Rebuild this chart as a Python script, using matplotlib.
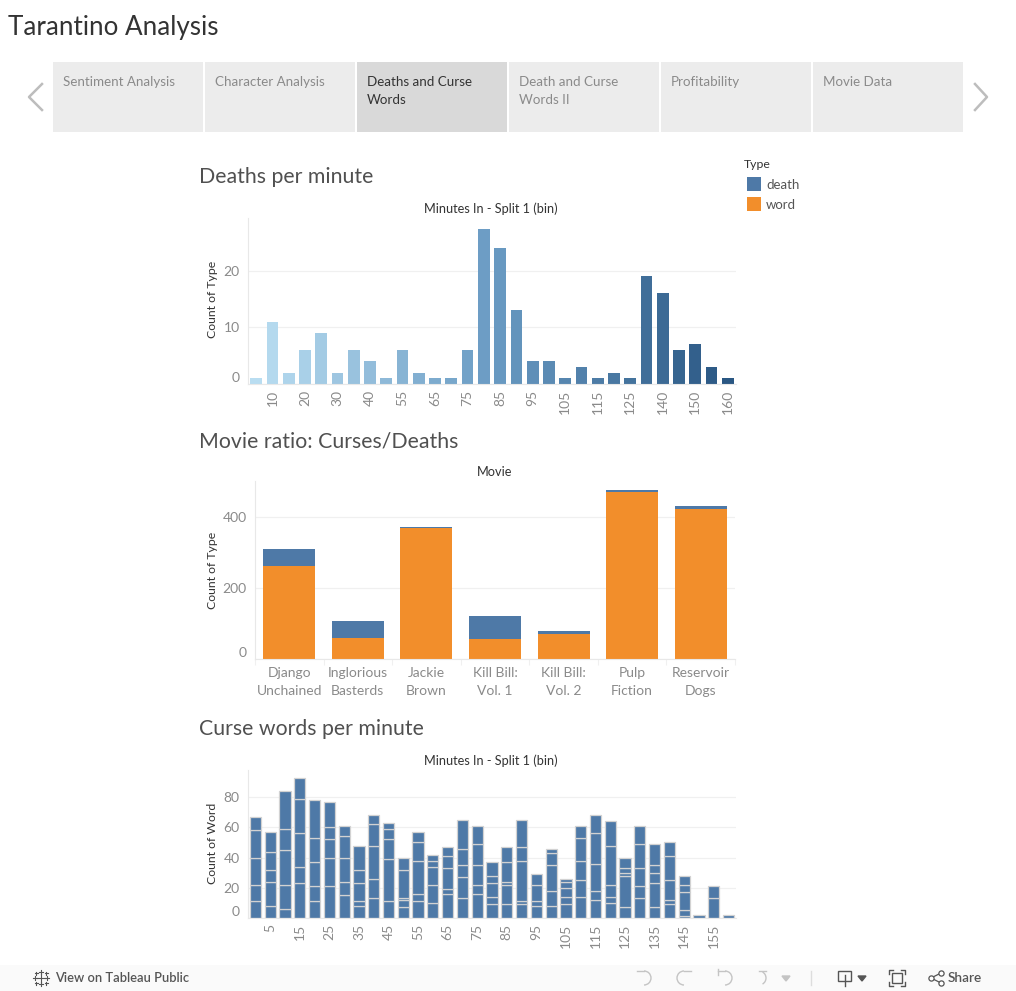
"""Tarantino Analysis dashboard: deaths and curse words."""

import matplotlib.pyplot as plt
import numpy as np
from matplotlib.colors import LinearSegmentedColormap
from matplotlib.patches import Arc, Rectangle

plt.rcParams["font.family"] = ["Lato", "DejaVu Sans"]

WIDTH, HEIGHT = 1016, 991
BLUE = "#4e79a7"
ORANGE = "#f28e2b"
TEXT_DARK = "#333333"
TEXT_GREY = "#8a8a8a"
GRID = "#f0f0f0"
AXIS = "#e8e8e8"

TABS = ["Sentiment Analysis", "Character Analysis", "Deaths and Curse\nWords",
        "Death and Curse\nWords II", "Profitability", "Movie Data"]
ACTIVE_TAB = 2

DEATH_BINS = [5, 10, 15, 20, 25, 30, 35, 40, 50, 55, 60, 65, 70, 75, 80,
              85, 90, 95, 100, 105, 110, 115, 120, 125, 135, 140, 145, 150, 155, 160]
DEATH_COUNTS = [1, 11, 2, 6, 9, 2, 6, 4, 1, 6, 2, 1, 1, 6, 27.3,
                24, 13, 4, 4, 1, 3, 1, 2, 1, 19, 16, 6, 7, 3, 1]

MOVIES = ["Django\nUnchained", "Inglorious\nBasterds", "Jackie\nBrown", "Kill Bill:\nVol. 1",
          "Kill Bill:\nVol. 2", "Pulp\nFiction", "Reservoir\nDogs"]
MOVIE_WORDS = [262, 58, 368, 57, 69, 469, 421]
MOVIE_DEATHS = [48, 48, 4, 63, 9, 7, 10]

WORD_BINS = list(range(0, 165, 5))
# running totals up each stacked bar, one boundary per movie
WORD_STACKS = [
    [11, 22, 40, 58, 67], [8, 24, 32, 44, 57], [6, 22, 45, 59, 84], [23, 34, 56, 79, 93],
    [11, 21, 37, 53, 78], [21, 40, 52, 60, 77], [15, 24, 40, 54, 61], [8, 11, 23, 32, 48],
    [13, 26, 48, 62, 68], [11, 39, 52, 59, 63], [7, 12, 13, 32, 40], [11, 16, 38, 50, 57],
    [10, 22, 34, 38, 42], [16, 19, 33, 41, 47], [13, 27, 35, 46, 65], [16, 22, 35, 49, 61],
    [9, 14, 23, 28, 37], [9, 22, 24, 37, 47], [9, 11, 38, 47, 65], [8, 11, 22, 29],
    [8, 18, 35, 43, 46], [9, 14, 20, 24, 26], [14, 25, 38, 53, 61], [12, 18, 36, 56, 68],
    [10, 14, 22, 48, 64], [7, 28, 30, 33, 40], [13, 21, 33, 49, 61], [7, 23, 30, 35, 49],
    [9, 12, 25, 41, 50], [1, 5, 17, 22, 28], [2], [13, 21], [2],
]


def add_chart(fig, left, top, right, bottom):
    ax = fig.add_axes([left / WIDTH, 1 - bottom / HEIGHT,
                       (right - left) / WIDTH, (bottom - top) / HEIGHT])
    ax.patch.set_alpha(0)
    for side in ("top", "right"):
        ax.spines[side].set_visible(False)
    for side in ("left", "bottom"):
        ax.spines[side].set_color(AXIS)
        ax.spines[side].set_linewidth(0.8)
    ax.grid(axis="y", color=GRID, linewidth=0.9)
    ax.set_axisbelow(True)
    ax.tick_params(axis="y", length=0, labelsize=10, labelcolor=TEXT_GREY, pad=6)
    return ax


def lift_zero_label(ax):
    # tableau keeps the 0 label above the axis line
    ax.get_yticklabels()[0].set_va("bottom")


def rotated_ticks(ax, bins, every_from):
    positions = range(every_from, len(bins), 2)
    ax.set_xticks(list(positions), [str(bins[i]) for i in positions], rotation=90)
    ax.tick_params(axis="x", length=0, labelsize=10, labelcolor=TEXT_GREY, pad=4)


def draw_page(page):
    page.add_patch(Rectangle((0, 965), WIDTH, 26, fc="#fafafa", ec="none", zorder=0))
    page.text(8, 28, "Tarantino Analysis", fontsize=18.7, color=TEXT_DARK, va="center")

    for i, tab in enumerate(TABS):
        x = 53 + 152 * i
        colour = "#d9d9d9" if i == ACTIVE_TAB else "#ececec"
        page.add_patch(Rectangle((x, 62), 150, 70, fc=colour, ec="none", zorder=0))
        page.text(x + 10, 76, tab, fontsize=9.6, va="top", linespacing=1.6,
                  color=TEXT_DARK if i == ACTIVE_TAB else TEXT_GREY)

    page.plot([42, 29, 42], [84, 97, 110], color="#bdbdbd", lw=1.8)
    page.plot([975, 987, 975], [84, 97, 110], color="#bdbdbd", lw=1.8)

    for y, title in [(177, "Deaths per minute"), (441, "Movie ratio: Curses/Deaths"),
                     (729, "Curse words per minute")]:
        page.text(199, y, title, fontsize=15.3, color="#505050", va="center")
    for x, y, title in [(491, 209, "Minutes In - Split 1 (bin)"), (495, 472, "Movie"),
                        (491, 761, "Minutes In - Split 1 (bin)")]:
        page.text(x, y, title, fontsize=9.2, color=TEXT_DARK, ha="center", va="center")
    for y, label in [(299, "Count of Type"), (570, "Count of Type"), (843, "Count of Word")]:
        page.text(213, y, label, fontsize=8.8, color=TEXT_DARK, rotation=90,
                  ha="center", va="center")

    page.text(744, 165, "Type", fontsize=8.8, color=TEXT_DARK, va="center")
    for y, name, colour in [(184, "death", BLUE), (204, "word", ORANGE)]:
        page.add_patch(Rectangle((747, y - 7), 14, 14, fc=colour, ec="none"))
        page.text(766, y + 1, name, fontsize=9.5, color="#555555", va="center")


def draw_toolbar(page):
    grey = "#555555"
    pale = "#c4c4c4"
    page.text(55, 978, "View on Tableau Public", fontsize=9.3, color=grey, va="center",
              fontweight="semibold")
    page.text(948, 978, "Share", fontsize=9.8, color=grey, va="center", fontweight="semibold")

    # tableau mark
    for dx, dy, r in [(0, 0, 4), (-6, 0, 2), (6, 0, 2), (0, -6, 2), (0, 6, 2),
                      (-5, -5, 1.5), (5, -5, 1.5), (-5, 5, 1.5), (5, 5, 1.5)]:
        page.plot([41 + dx - r, 41 + dx + r], [978 + dy, 978 + dy], color=grey, lw=0.8)
        page.plot([41 + dx, 41 + dx], [978 + dy - r, 978 + dy + r], color=grey, lw=0.8)

    # undo, redo, revert, refresh
    for x, start, end, tip in [(644, 270, 90, 637), (684, 90, 270, 691),
                               (725, 270, 90, 718), (759, 300, 60, 766)]:
        page.add_patch(Arc((x, 978), 14, 14, theta1=start, theta2=end, color=pale, lw=1))
        page.plot([tip, x], [971, 971], color=pale, lw=1)
    page.plot([718, 718], [969, 975], color=pale, lw=1)
    page.fill([782, 790, 786], [976, 976, 981], color=pale)
    page.plot([811, 811], [971, 985], color="#dddddd", lw=1)

    # download
    page.add_patch(Rectangle((838, 971), 13, 10, fill=False, ec=grey, lw=1))
    page.plot([845, 845], [975, 986], color=grey, lw=1)
    page.fill([858, 866, 862], [976, 976, 981], color=grey)
    # fullscreen
    page.add_patch(Rectangle((892, 973), 10, 10, fill=False, ec=grey, lw=1))
    for x, y, dx, dy in [(889, 970, 4, 4), (905, 970, -4, 4), (889, 986, 4, -4), (905, 986, -4, -4)]:
        page.plot([x + dx, x, x], [y, y, y + dy], color=grey, lw=1)
    # share
    page.plot([941, 931, 941], [973, 978, 983], color=grey, lw=0.9)
    page.scatter([941, 931, 941], [973, 978, 983], s=14, fc="white", ec=grey, lw=0.9, zorder=3)


def draw_deaths(fig):
    ax = add_chart(fig, 248, 218, 736, 384)
    cmap = LinearSegmentedColormap.from_list("tableau_blue", ["#b9ddf1", "#6a9bc3", "#2a5783"])
    x = np.arange(len(DEATH_BINS))
    ax.bar(x, DEATH_COUNTS, width=0.72, color=cmap(x / x.max()))
    ax.set_xlim(-0.5, len(DEATH_BINS) - 0.5)
    ax.set_ylim(0, 29.3)
    ax.set_yticks([0, 10, 20])
    rotated_ticks(ax, DEATH_BINS, 1)
    lift_zero_label(ax)


def draw_movies(fig):
    ax = add_chart(fig, 255, 481, 735, 659)
    x = np.arange(len(MOVIES))
    ax.bar(x, MOVIE_WORDS, width=0.757, color=ORANGE)
    ax.bar(x, MOVIE_DEATHS, width=0.757, bottom=MOVIE_WORDS, color=BLUE)
    ax.set_xlim(-0.5, len(MOVIES) - 0.5)
    ax.set_ylim(0, 501)
    ax.set_yticks([0, 200, 400])
    ax.set_xticks(x, MOVIES, linespacing=1.55)
    ax.set_xticks(np.arange(len(MOVIES) + 1) - 0.5, minor=True)
    ax.tick_params(axis="x", which="major", length=0, labelsize=10, labelcolor=TEXT_GREY, pad=6)
    ax.tick_params(axis="x", which="minor", length=4, color="#f0f0f0", width=0.8)
    lift_zero_label(ax)


def draw_words(fig):
    ax = add_chart(fig, 248, 770, 736, 918)
    for i, stack in enumerate(WORD_STACKS):
        sizes = np.diff(stack, prepend=0)
        bottoms = np.array(stack) - sizes
        ax.bar(np.full(len(stack), i), sizes, bottom=bottoms, width=0.76, color=BLUE,
               edgecolor="#d2d2d2", linewidth=0.9)
    ax.set_xlim(-0.5, len(WORD_BINS) - 0.5)
    ax.set_ylim(0, 98)
    ax.set_yticks([0, 20, 40, 60, 80])
    rotated_ticks(ax, WORD_BINS, 1)
    lift_zero_label(ax)


def main():
    fig = plt.figure(figsize=(WIDTH / 100, HEIGHT / 100), dpi=100, facecolor="white")
    page = fig.add_axes([0, 0, 1, 1])
    page.set_xlim(0, WIDTH)
    page.set_ylim(HEIGHT, 0)
    page.axis("off")

    draw_page(page)
    draw_toolbar(page)
    draw_deaths(fig)
    draw_movies(fig)
    draw_words(fig)

    fig.savefig("out.png", dpi=100)
    plt.close(fig)


if __name__ == "__main__":
    main()
